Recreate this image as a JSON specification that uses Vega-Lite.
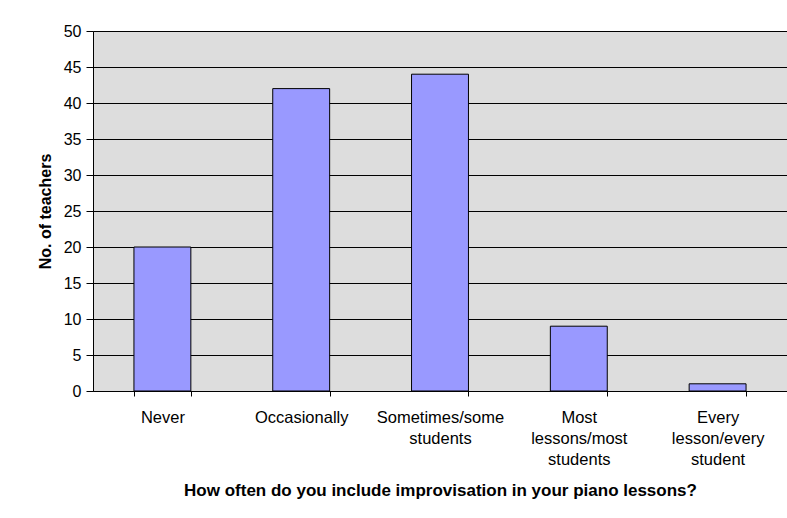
{
  "$schema": "https://vega.github.io/schema/vega-lite/v6.json",
  "autosize": "none",
  "width": 694,
  "height": 360,
  "padding": {"left": 93, "top": 31, "right": 0, "bottom": 127},
  "background": "white",
  "config": {
    "font": "Liberation Sans",
    "view": {"fill": "#DDDDDD", "stroke": "#888888", "strokeWidth": 1}
  },
  "data": {
    "values": [
      {"answer": "Never", "teachers": 20},
      {"answer": "Occasionally", "teachers": 42},
      {"answer": "Sometimes/some\nstudents", "teachers": 44},
      {"answer": "Most\nlessons/most\nstudents", "teachers": 9},
      {"answer": "Every\nlesson/every\nstudent", "teachers": 1}
    ]
  },
  "mark": {"type": "bar", "fill": "#9999FF", "stroke": "black", "strokeWidth": 1},
  "encoding": {
    "x": {
      "field": "answer",
      "type": "nominal",
      "sort": null,
      "scale": {"paddingInner": 0.59, "paddingOuter": 0.295},
      "axis": {
        "title": "How often do you include improvisation in your piano lessons?",
        "titleFontSize": 17,
        "titleFontWeight": "bold",
        "titleColor": "black",
        "titleY": 99,
        "titleBaseline": "middle",
        "labelAngle": 0,
        "labelFontSize": 16.5,
        "labelColor": "black",
        "labelExpr": "split(datum.label, '\\n')",
        "labelLineHeight": 21,
        "labelPadding": 13,
        "labelBaseline": "top",
        "tickBand": "extent",
        "tickSize": 5,
        "tickColor": "black",
        "domainColor": "black",
        "grid": false
      }
    },
    "y": {
      "field": "teachers",
      "type": "quantitative",
      "scale": {"domain": [0, 50]},
      "axis": {
        "title": "No. of teachers",
        "titleFontSize": 16,
        "titleFontWeight": "bold",
        "titleColor": "black",
        "titleX": -48,
        "titleY": 180,
        "titleBaseline": "middle",
        "titleAngle": -90,
        "values": [0, 5, 10, 15, 20, 25, 30, 35, 40, 45, 50],
        "labelFontSize": 16,
        "labelColor": "black",
        "labelPadding": 5,
        "tickSize": 7,
        "tickColor": "black",
        "domainColor": "black",
        "grid": true,
        "gridColor": "black",
        "gridOpacity": 1
      }
    }
  }
}
